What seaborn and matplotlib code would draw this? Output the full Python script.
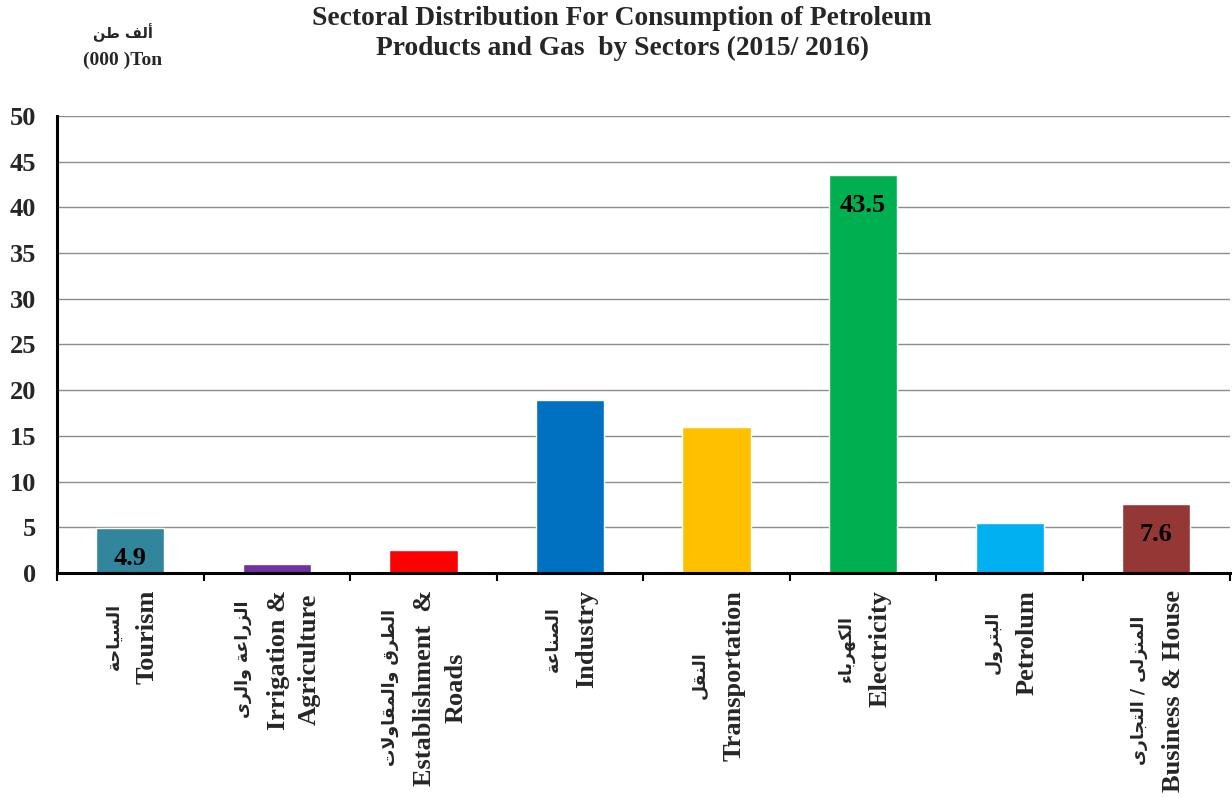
import matplotlib
matplotlib.use("Agg")
import matplotlib.pyplot as plt
import matplotlib.transforms as mtransforms
import seaborn as sns

# data
sectors_en = ['Tourism', 'Irrigation &\nAgriculture', 'Establishment  &\nRoads', 'Industry',
              'Transportation', 'Electricity', 'Petrolum', 'Business & House']
sectors_ar = ['السياحة', 'الزراعة والرى', 'الطرق والمقاولات', 'الصناعة',
              'النقل', 'الكهرباء', 'البترول', 'المنزلى / التجارى']
consumption = [4.9, 1.0, 2.5, 18.9, 16.0, 43.5, 5.5, 7.6]
shown_labels = ['4.9', '', '', '', '', '43.5', '', '7.6']
bar_colors = ['#31859C', '#7030A0', '#FF0000', '#0070C0',
              '#FFC000', '#00B050', '#00B0F0', '#953735']

TITLE = 'Sectoral Distribution For Consumption of Petroleum\nProducts and Gas  by Sectors (2015/ 2016)'
UNIT_AR = 'ألف طن'
UNIT_EN = '(000 )Ton'

# matplotlib has no arabic shaping, so map letters to presentation forms by hand
FORMS = {
    'ا': (0xFE8D, 0xFE8E, None, None), 'أ': (0xFE83, 0xFE84, None, None),
    'ب': (0xFE8F, 0xFE90, 0xFE91, 0xFE92), 'ة': (0xFE93, 0xFE94, None, None),
    'ت': (0xFE95, 0xFE96, 0xFE97, 0xFE98), 'ج': (0xFE9D, 0xFE9E, 0xFE9F, 0xFEA0),
    'ح': (0xFEA1, 0xFEA2, 0xFEA3, 0xFEA4), 'ر': (0xFEAD, 0xFEAE, None, None),
    'ز': (0xFEAF, 0xFEB0, None, None), 'س': (0xFEB1, 0xFEB2, 0xFEB3, 0xFEB4),
    'ص': (0xFEB9, 0xFEBA, 0xFEBB, 0xFEBC), 'ط': (0xFEC1, 0xFEC2, 0xFEC3, 0xFEC4),
    'ع': (0xFEC9, 0xFECA, 0xFECB, 0xFECC), 'ف': (0xFED1, 0xFED2, 0xFED3, 0xFED4),
    'ق': (0xFED5, 0xFED6, 0xFED7, 0xFED8), 'ك': (0xFED9, 0xFEDA, 0xFEDB, 0xFEDC),
    'ل': (0xFEDD, 0xFEDE, 0xFEDF, 0xFEE0), 'م': (0xFEE1, 0xFEE2, 0xFEE3, 0xFEE4),
    'ن': (0xFEE5, 0xFEE6, 0xFEE7, 0xFEE8), 'ه': (0xFEE9, 0xFEEA, 0xFEEB, 0xFEEC),
    'و': (0xFEED, 0xFEEE, None, None), 'ى': (0xFEEF, 0xFEF0, 0xFBE8, 0xFBE9),
    'ي': (0xFEF1, 0xFEF2, 0xFEF3, 0xFEF4), 'ء': (0xFE80, None, None, None),
    'لا': (0xFEFB, 0xFEFC, None, None), 'لأ': (0xFEF7, 0xFEF8, None, None),
}


def shape_arabic(text):
    tokens = []
    i = 0
    while i < len(text):
        if text[i] == 'ل' and i + 1 < len(text) and text[i + 1] in 'اأ':
            tokens.append(text[i:i + 2])
            i += 2
        else:
            tokens.append(text[i])
            i += 1
    out = []
    for k, t in enumerate(tokens):
        if t not in FORMS:
            out.append(t)
            continue
        prev = tokens[k - 1] if k > 0 else None
        nxt = tokens[k + 1] if k + 1 < len(tokens) else None
        iso, fin, ini, med = FORMS[t]
        p = prev in FORMS and FORMS[prev][2] is not None and fin is not None
        n = nxt in FORMS and FORMS[nxt][1] is not None and ini is not None
        if p and n:
            g = med
        elif p:
            g = fin
        elif n:
            g = ini
        else:
            g = iso
        out.append(chr(g))
    return ''.join(reversed(out))


sns.set_theme(style='white')
plt.rcParams['font.family'] = ['Liberation Serif', 'DejaVu Sans']
plt.rcParams['font.weight'] = 'bold'

fig = plt.figure(figsize=(12.32, 7.98), dpi=100)
ax = fig.add_axes([0.0463, 0.282, 0.9517, 0.5726])

sns.barplot(x=list(range(len(consumption))), y=consumption, hue=list(range(len(consumption))),
            palette=bar_colors, legend=False, width=0.465, saturation=1, ax=ax, zorder=3)

ax.set_ylim(0, 50)
ax.set_xlim(-0.5, len(consumption) - 0.5)
ax.set_yticks(range(0, 51, 5))
ax.yaxis.grid(True, color='#8c8c8c', linewidth=1.0, zorder=0)
ax.set_axisbelow(True)
for side in ['top', 'right']:
    ax.spines[side].set_visible(False)
for side in ['left', 'bottom']:
    ax.spines[side].set_color('black')
    ax.spines[side].set_linewidth(2.2)
    ax.spines[side].set_zorder(5)
ax.tick_params(axis='y', which='major', direction='out', length=6, width=2.0,
               color='black', labelsize=19, pad=9)
for lbl in ax.get_yticklabels():
    lbl.set_fontweight('bold')
ax.set_xticks([i + 0.5 for i in range(-1, len(consumption))], minor=True)
ax.set_xticks(range(len(consumption)))
ax.set_xticklabels([])
ax.tick_params(axis='x', which='major', length=0)
ax.tick_params(axis='x', which='minor', direction='out', length=6, width=1.5, color='black', bottom=True)
ax.set_xlabel('')
ax.set_ylabel('')

# value labels inside the bar tops
for i, (v, s) in enumerate(zip(consumption, shown_labels)):
    if s:
        ax.annotate(s, xy=(i, v), xytext=(0, -22), textcoords='offset points',
                    ha='center', va='center', fontsize=19, fontweight='bold', color='black', zorder=6)

# rotated two-language category labels, lines centred on each other
trans = mtransforms.blended_transform_factory(ax.transData, ax.transAxes)
gap_ar, line_gap = 24.5, 24.0
pairs = []
for i, (en, ar) in enumerate(zip(sectors_en, sectors_ar)):
    n = en.count('\n') + 1
    ar_x = -(gap_ar + (n - 1) * line_gap) / 2
    en_x = ar_x + gap_ar + (n - 1) * line_gap / 2
    t_ar = ax.annotate(shape_arabic(ar), xy=(i, 0), xycoords=trans,
                       xytext=(ar_x, 0), textcoords='offset points',
                       rotation=90, ha='center', va='center', fontsize=12.5, fontweight='bold',
                       family=['DejaVu Sans'])
    t_en = ax.annotate(en, xy=(i, 0), xycoords=trans,
                       xytext=(en_x, 0), textcoords='offset points',
                       rotation=90, ha='center', va='center', fontsize=19, fontweight='bold',
                       multialignment='center', linespacing=1.45)
    pairs.append((t_ar, t_en))

fig.canvas.draw()
renderer = fig.canvas.get_renderer()
for t_ar, t_en in pairs:
    h = max(t_ar.get_window_extent(renderer).height, t_en.get_window_extent(renderer).height)
    dy = -12 - h / 2 * 72 / fig.dpi
    t_ar.xyann = (t_ar.xyann[0], dy)
    t_en.xyann = (t_en.xyann[0], dy)

fig.text(0.505, 0.992, TITLE, ha='center', va='top', fontsize=19.8, fontweight='bold', linespacing=1.25)
fig.text(0.0998, 0.9586, shape_arabic(UNIT_AR), ha='center', va='center', fontsize=10.5,
         fontweight='bold', family=['DejaVu Sans'])
fig.text(0.0998, 0.925, UNIT_EN, ha='center', va='center', fontsize=14, fontweight='bold')

fig.savefig('out.png', dpi=100)
